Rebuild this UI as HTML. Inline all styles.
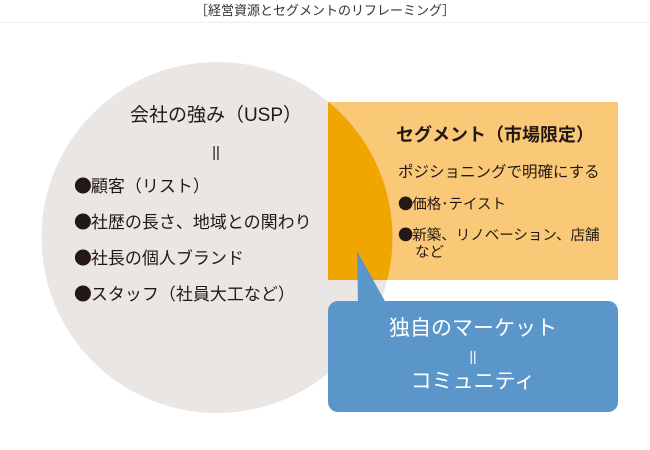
<!DOCTYPE html>
<html><head><meta charset="utf-8"><style>
body{margin:0;width:650px;height:450px;background:#fff;overflow:hidden;position:relative;font-family:"Liberation Sans","Noto Sans CJK JP",sans-serif;color:#231815}
.t{position:absolute;white-space:nowrap;line-height:1}
.b{font-family:"Noto Sans CJK JP",sans-serif;font-size:1.05em;margin-right:-1px}
</style></head><body>
<svg width="650" height="450" style="position:absolute;left:0;top:0">
<line x1="0" y1="22.5" x2="650" y2="22.5" stroke="#eeeeee" stroke-width="1"/>
<circle cx="217" cy="237.5" r="175.5" fill="#e9e6e3"/>
<rect x="328" y="102" width="290" height="178" fill="#fac978"/>
<clipPath id="c"><rect x="328" y="102" width="290" height="178"/></clipPath>
<circle cx="217" cy="237.5" r="175.5" fill="#f0a500" clip-path="url(#c)"/>
<rect x="328" y="301" width="290" height="111" rx="10" fill="#5a96ca"/>
<polygon points="357,251 358,303 386,303" fill="#5a96ca"/>
</svg>
<div class="t" style="left:0;width:650px;text-align:center;top:4px;font-size:13px;color:#333">［経営資源とセグメントのリフレーミング］</div>
<div class="t" style="left:40px;width:352px;text-align:center;top:106px;font-size:19px">会社の強み（USP）</div>
<div class="t" style="left:40px;width:352px;text-align:center;top:145px;font-size:15px">||</div>
<div class="t" style="left:74px;top:177px;font-size:17px"><span class="b">●</span>顧客（リスト）</div>
<div class="t" style="left:74px;top:213px;font-size:17px"><span class="b">●</span>社歴の長さ、地域との関わり</div>
<div class="t" style="left:74px;top:249px;font-size:17px"><span class="b">●</span>社長の個人ブランド</div>
<div class="t" style="left:74px;top:285px;font-size:17px"><span class="b">●</span>スタッフ（社員大工など）</div>
<div class="t" style="left:396px;top:126px;font-size:18px;font-weight:bold">セグメント（市場限定）</div>
<div class="t" style="left:398px;top:165px;font-size:15.5px">ポジショニングで明確にする</div>
<div class="t" style="left:398px;top:196px;font-size:14.5px"><span class="b">●</span>価格･テイスト</div>
<div class="t" style="left:398px;top:227px;font-size:14.5px"><span class="b">●</span>新築、リノベーション、店舗</div>
<div class="t" style="left:415px;top:246px;font-size:14.5px">など</div>
<div class="t" style="left:328px;width:290px;text-align:center;top:318px;font-size:21px;color:#fff">独自のマーケット</div>
<div class="t" style="left:328px;width:290px;text-align:center;top:349px;font-size:14px;color:#fff">||</div>
<div class="t" style="left:328px;width:290px;text-align:center;top:371px;font-size:21px;color:#fff">コミュニティ</div>
</body></html>
